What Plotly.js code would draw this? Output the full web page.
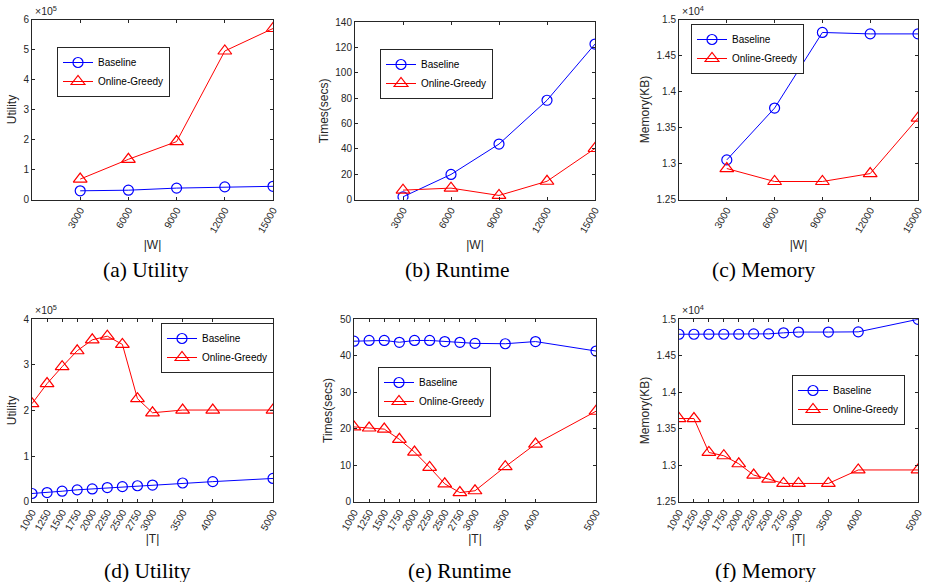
<!DOCTYPE html>
<html>
<head>
<meta charset="utf-8">
<script src="https://cdn.plot.ly/plotly-3.0.1.min.js"></script>
<style>html,body{margin:0;padding:0;background:#fff;}#chart{width:928px;height:582px;}</style>
</head>
<body>
<div id="chart"></div>
<script>
// ---- data ----
const W = [3000, 6000, 9000, 12000, 15000];
const T = [1000, 1250, 1500, 1750, 2000, 2250, 2500, 2750, 3000, 3500, 4000, 5000];

const utilW_base   = [29000, 31000, 38000, 42000, 44000];
const utilW_greedy = [68000, 134000, 193000, 495000, 570000];
const timeW_base   = [2.1, 19.8, 43.8, 78.4, 122.8];
const timeW_greedy = [7.4, 9.0, 3.2, 14.4, 40.3];
const memW_base    = [13050, 13770, 14820, 14800, 14800];
const memW_greedy  = [12930, 12750, 12750, 12860, 13630];

const utilT_base   = [18000, 20000, 23000, 26000, 28000, 31000, 33000, 35000, 36500, 41000, 44000, 51000];
const utilT_greedy = [215000, 259000, 296000, 331000, 355000, 363000, 345000, 226000, 195000, 201000, 201000, 201000];
const timeT_base   = [44.0, 44.2, 44.2, 43.7, 44.2, 44.2, 43.9, 43.7, 43.4, 43.3, 43.9, 41.3];
const timeT_greedy = [20.5, 20.2, 19.9, 17.1, 13.6, 9.4, 4.9, 2.5, 3.0, 9.6, 15.8, 24.8];
const memT_base    = [14795, 14795, 14795, 14795, 14795, 14800, 14800, 14815, 14825, 14825, 14828, 15000];
const memT_greedy  = [13640, 13640, 13175, 13130, 13020, 12865, 12810, 12750, 12750, 12750, 12935, 12935];

const seriesNames = ['Baseline', 'Online-Greedy'];
const utilTicks = [0, 100000, 200000, 300000, 400000, 500000, 600000];
const utilTickText = ['0', '1', '2', '3', '4', '5', '6'];
const timeWTicks = [0, 20, 40, 60, 80, 100, 120, 140];
const timeTTicks = [0, 10, 20, 30, 40, 50];
const memTicks = [12500, 13000, 13500, 14000, 14500, 15000];
const memTickText = ['1.25', '1.3', '1.35', '1.4', '1.45', '1.5'];
const captions = ['(a) Utility', '(b) Runtime', '(c) Memory', '(d) Utility', '(e) Runtime', '(f) Memory'];

// ---- layout helpers ----
const PW = 928, PH = 582;
const panels = [
  {x: W, b: utilW_base, g: utilW_greedy, box: [32, 273, 19.5, 199.5], yr: [0, 600000], tv: utilTicks.slice(0, 7), tt: utilTickText.slice(0, 7), yt: 'Utility', xt: '|W|', xr: [0, 15000], exp: '5', leg: [57, 47], cap: [146, 270], so: 6},
  {x: W, b: timeW_base, g: timeW_greedy, box: [355, 595, 22.3, 199.5], yr: [0, 140], tv: timeWTicks, tt: timeWTicks.map(String), yt: 'Times(secs)', xt: '|W|', xr: [0, 15000], leg: [380, 49], cap: [457, 270], so: 6},
  {x: W, b: memW_base, g: memW_greedy, box: [679, 918, 19.5, 199.5], yr: [12500, 15000], tv: memTicks, tt: memTickText, yt: 'Memory(KB)', xt: '|W|', xr: [0, 15000], exp: '4', leg: [691, 24], cap: [764, 270], so: 6},
  {x: T, b: utilT_base, g: utilT_greedy, box: [32, 273, 319.3, 501.7], yr: [0, 400000], tv: utilTicks.slice(0, 5), tt: utilTickText.slice(0, 5), yt: 'Utility', xt: '|T|', xr: [1000, 5000], exp: '5', leg: [161, 323], cap: [147, 571], so: 2},
  {x: T, b: timeT_base, g: timeT_greedy, box: [354, 596, 319.3, 501.7], yr: [0, 50], tv: timeTTicks, tt: timeTTicks.map(String), yt: 'Times(secs)', xt: '|T|', xr: [1000, 5000], leg: [378, 367], cap: [459, 571], so: 2},
  {x: T, b: memT_base, g: memT_greedy, box: [679, 918, 319.3, 501.7], yr: [12500, 15000], tv: memTicks, tt: memTickText, yt: 'Memory(KB)', xt: '|T|', xr: [1000, 5000], exp: '4', leg: [792, 375], cap: [765, 571], so: 2}
];

const SANS = 'Liberation Sans, Arial, Helvetica, sans-serif';
const tickFont = {family: SANS, size: 10, color: '#262626'};
const data = [];
const layout = {
  width: PW, height: PH,
  margin: {l: 0, r: 0, t: 0, b: 0},
  paper_bgcolor: '#fff', plot_bgcolor: '#fff',
  showlegend: true,
  annotations: []
};

panels.forEach((p, i) => {
  const n = i + 1;
  const sfx = n === 1 ? '' : String(n);
  const xr = 'x' + sfx, yr = 'y' + sfx, lg = 'legend' + sfx;
  const [l, r, t, b] = p.box;
  layout['xaxis' + sfx] = {
    domain: [l / PW, r / PW], anchor: yr, range: p.xr,
    tickvals: p.x, ticktext: p.x.map(String), tickangle: -60,
    ticks: 'inside', ticklen: 3, tickcolor: '#262626', mirror: 'ticks',
    showline: true, linecolor: '#262626', linewidth: 1,
    showgrid: false, zeroline: false, tickfont: tickFont,
    title: {text: p.xt, font: {family: SANS, size: 12, color: '#262626'}, standoff: p.so}
  };
  layout['yaxis' + sfx] = {
    domain: [1 - b / PH, 1 - t / PH], anchor: xr, range: p.yr,
    tickvals: p.tv, ticktext: p.tt,
    ticks: 'inside', ticklen: 3, tickcolor: '#262626', mirror: 'ticks',
    showline: true, linecolor: '#262626', linewidth: 1,
    showgrid: false, zeroline: false, tickfont: tickFont,
    title: {text: p.yt, font: {family: SANS, size: 12, color: '#262626'}, standoff: 4}
  };
  layout[lg] = {
    x: p.leg[0] / PW, y: 1 - p.leg[1] / PH, xanchor: 'left', yanchor: 'top',
    xref: 'paper', yref: 'paper',
    bgcolor: '#fff', bordercolor: '#262626', borderwidth: 1,
    font: {family: SANS, size: 10, color: '#000'},
    tracegroupgap: 0, itemwidth: 30
  };
  data.push({
    x: p.x, y: p.b, xaxis: xr, yaxis: yr, legend: lg, name: seriesNames[0],
    mode: 'lines+markers', line: {color: '#0000ff', width: 1},
    marker: {symbol: 'circle-open', size: 10, color: '#0000ff', line: {width: 1.2}}
  });
  data.push({
    x: p.x, y: p.g, xaxis: xr, yaxis: yr, legend: lg, name: seriesNames[1],
    mode: 'lines+markers', line: {color: '#ff0000', width: 1},
    marker: {symbol: 'triangle-up-open', size: 12, color: '#ff0000', line: {width: 1.2}}
  });
  if (p.exp) {
    layout.annotations.push({
      xref: 'paper', yref: 'paper', x: (l + 1) / PW, y: 1 - (t - 1) / PH,
      xanchor: 'left', yanchor: 'bottom', showarrow: false,
      text: '×10<sup>' + p.exp + '</sup>',
      font: {family: SANS, size: 10.5, color: '#262626'}
    });
  }
  layout.annotations.push({
    xref: 'paper', yref: 'paper', x: p.cap[0] / PW, y: 1 - p.cap[1] / PH,
    xanchor: 'center', yanchor: 'middle', showarrow: false,
    text: captions[i],
    font: {family: 'Liberation Serif, Times New Roman, serif', size: 21.5, color: '#000'}
  });
});

Plotly.newPlot('chart', data, layout, {displayModeBar: false, staticPlot: true});
</script>
</body>
</html>
